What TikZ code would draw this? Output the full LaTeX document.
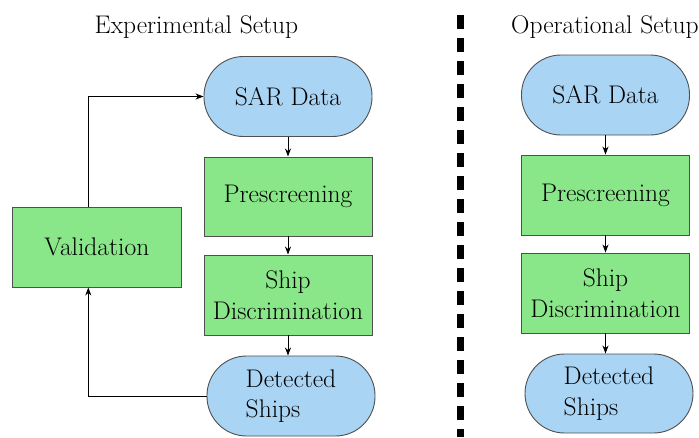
\documentclass[tikz,border=0pt]{standalone}
\usetikzlibrary{arrows.meta}
\definecolor{boxblue}{RGB}{169,212,244}
\definecolor{boxgreen}{RGB}{137,230,137}
\definecolor{boxline}{RGB}{80,80,80}
\tikzset{
  base/.style={draw=boxline, line width=0.9pt, minimum width=168pt, minimum height=80pt, inner sep=0pt,
    font=\fontsize{25.5}{30.6}\selectfont},
  terminal/.style={base, fill=boxblue, rounded corners=39.5pt},
  process/.style={base, fill=boxgreen},
  title/.style={anchor=base, inner sep=0pt, font=\fontsize{25.5}{30.6}\selectfont},
  arr/.style={draw=black, line width=0.9pt, -{Stealth[length=8pt,width=6pt,inset=2.5pt]}}
}
\begin{document}
\begin{tikzpicture}[x=1pt,y=-1pt]
\useasboundingbox (0,0) rectangle (699,437);
% titles
\node[title] (t1) at (196.5,33) {Experimental Setup};
\node[title] (t2) at (605,33) {Operational Setup};
% separator
\coordinate (sepTop) at (460.5,15);
\coordinate (sepBot) at (460.5,437);
\draw[line width=7pt, dash pattern=on 13.5pt off 9.5pt] (sepTop) -- (sepBot);
% left column
\node[terminal] (sar1) at (288,96.5) {SAR Data};
\node[process, minimum height=79pt] (pre1) at (288,196.5) {Prescreening};
\node[process, align=center] (shp1) at (288,295) {Ship\\Discrimination};
\node[terminal, align=left] (det1) at (291,396) {Detected\\Ships};
\node[process, minimum width=169pt, minimum height=80pt] (val) at (96.8,247) {Validation};
\draw[arr] (sar1.south) -- (pre1.north);
\draw[arr] (pre1.south) -- (shp1.north);
\draw[arr] (shp1.south) -- (shp1.south |- det1.north);
\draw[arr] (det1.west) -| ([xshift=-8.5pt]val.south);
\draw[arr] ([xshift=-8.5pt]val.north) |- (sar1.west);
% right column
\node[terminal] (sar2) at (605.5,95) {SAR Data};
\node[process] (pre2) at (605.5,195) {Prescreening};
\node[process, align=center] (shp2) at (605.5,293) {Ship\\Discrimination};
\node[terminal, align=left, minimum height=79pt] (det2) at (609,393.5) {Detected\\Ships};
\draw[arr] (sar2.south) -- (pre2.north);
\draw[arr] (pre2.south) -- (shp2.north);
\draw[arr] (shp2.south) -- (shp2.south |- det2.north);
\end{tikzpicture}
\end{document}
